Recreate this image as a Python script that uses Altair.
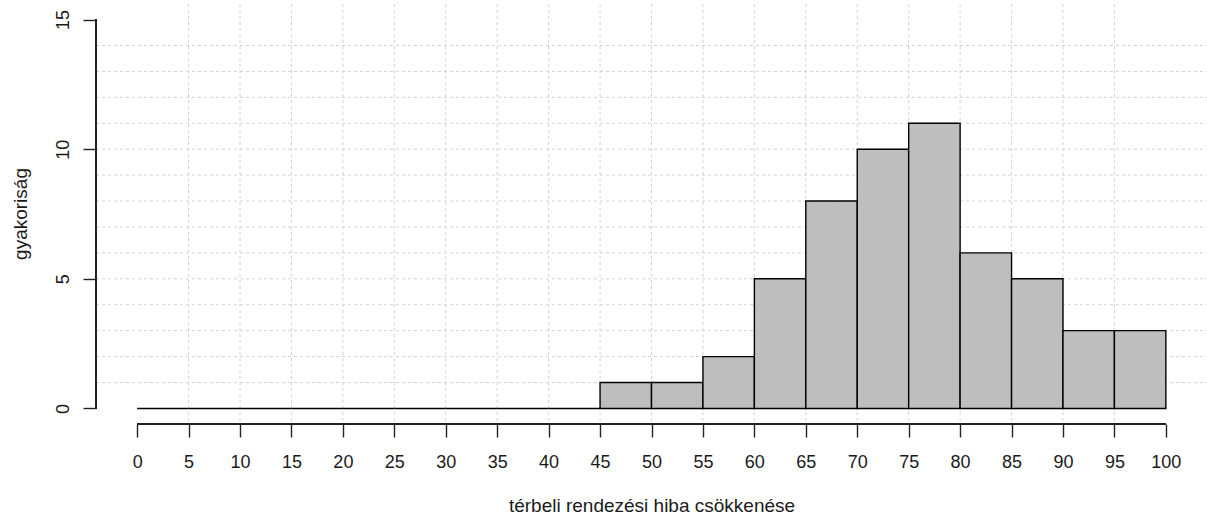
import altair as alt
import pandas as pd

# Histogram bins (width 5) and their frequencies
bin_start = [0, 5, 10, 15, 20, 25, 30, 35, 40, 45, 50, 55, 60, 65, 70, 75, 80, 85, 90, 95]
bin_width = 5
counts = [0, 0, 0, 0, 0, 0, 0, 0, 0, 1, 1, 2, 5, 8, 10, 11, 6, 5, 3, 3]

# Axis ticks and reference grid positions
x_ticks = list(range(0, 101, 5))
y_ticks = [0, 5, 10, 15]
grid_x = list(range(5, 100, 5))
grid_y = list(range(1, 15))

x_title = "térbeli rendezési hiba csökkenése"
y_title = "gyakoriság"

FONT = "Liberation Sans"
W, H = 1111, 420

bars_df = pd.DataFrame({
    "start": bin_start,
    "end": [s + bin_width for s in bin_start],
    "count": counts,
})
gx_df = pd.DataFrame({"gx": grid_x})
gy_df = pd.DataFrame({"gy": grid_y})

x_scale = alt.Scale(domain=[-4, 104], nice=False, zero=False)
y_scale = alt.Scale(domain=[-0.6, 15.6], nice=False, zero=False)

x_axis = alt.Axis(
    values=x_ticks,
    domain=False,
    grid=False,
    ticks=True,
    tickSize=13,
    tickWidth=1.4,
    tickColor="#222222",
    labelFont=FONT,
    labelFontSize=18,
    labelColor="#1a1a1a",
    labelPadding=16,
    labelFlush=False,
    labelOverlap=False,
    title=x_title,
    titleFont=FONT,
    titleFontSize=19,
    titleFontWeight="normal",
    titleColor="#1a1a1a",
    titleX=W / 2,
    titleY=87,
    titleAlign="center",
    titleBaseline="alphabetic",
)

y_axis = alt.Axis(
    values=y_ticks,
    domain=False,
    grid=False,
    ticks=True,
    tickSize=13,
    tickWidth=1.4,
    tickColor="#222222",
    labelFont=FONT,
    labelFontSize=18,
    labelColor="#1a1a1a",
    labelAngle=270,
    labelAlign="center",
    labelBaseline="alphabetic",
    labelPadding=15,
    labelOverlap=False,
    title=y_title,
    titleFont=FONT,
    titleFontSize=19,
    titleFontWeight="normal",
    titleColor="#1a1a1a",
    titleAngle=270,
    titleX=-76,
    titleY=209.5,
    titleAlign="center",
    titleBaseline="middle",
)

grid_style = dict(color="#D3D3D3", strokeWidth=1, strokeDash=[3, 3])

vgrid = alt.Chart(gx_df).mark_rule(**grid_style).encode(
    x=alt.X("gx:Q", scale=x_scale, axis=x_axis),
    y=alt.value(0),
    y2=alt.value(H),
)

hgrid = alt.Chart(gy_df).mark_rule(**grid_style).encode(
    y=alt.Y("gy:Q", scale=y_scale, axis=y_axis),
    x=alt.value(0),
    x2=alt.value(W),
)

bars = alt.Chart(bars_df).mark_rect(
    fill="#BEBEBE", stroke="#000000", strokeWidth=1.4
).encode(
    x=alt.X("start:Q", scale=x_scale, axis=x_axis),
    x2="end:Q",
    y=alt.Y("count:Q", scale=y_scale, axis=y_axis),
    y2=alt.datum(0),
)

# Detached axis lines spanning only the tick range
y_axis_line = alt.Chart(bars_df).mark_rule(color="#222222", strokeWidth=1.4).encode(
    x=alt.value(0),
    y=alt.Y(datum=y_ticks[0], scale=y_scale, axis=y_axis),
    y2=alt.datum(y_ticks[-1]),
)
x_axis_line = alt.Chart(bars_df).mark_rule(color="#222222", strokeWidth=1.4).encode(
    x=alt.X(datum=x_ticks[0], scale=x_scale, axis=x_axis),
    x2=alt.datum(x_ticks[-1]),
    y=alt.value(H),
)

chart = alt.layer(vgrid, hgrid, bars, y_axis_line, x_axis_line).properties(
    width=W,
    height=H,
    autosize=alt.AutoSizeParams(type="none"),
    padding={"left": 96, "top": 4, "right": 0, "bottom": 94},
    background="white",
).configure_view(stroke=None)

chart.save("out.html", embed_options={"renderer": "svg", "actions": False})
